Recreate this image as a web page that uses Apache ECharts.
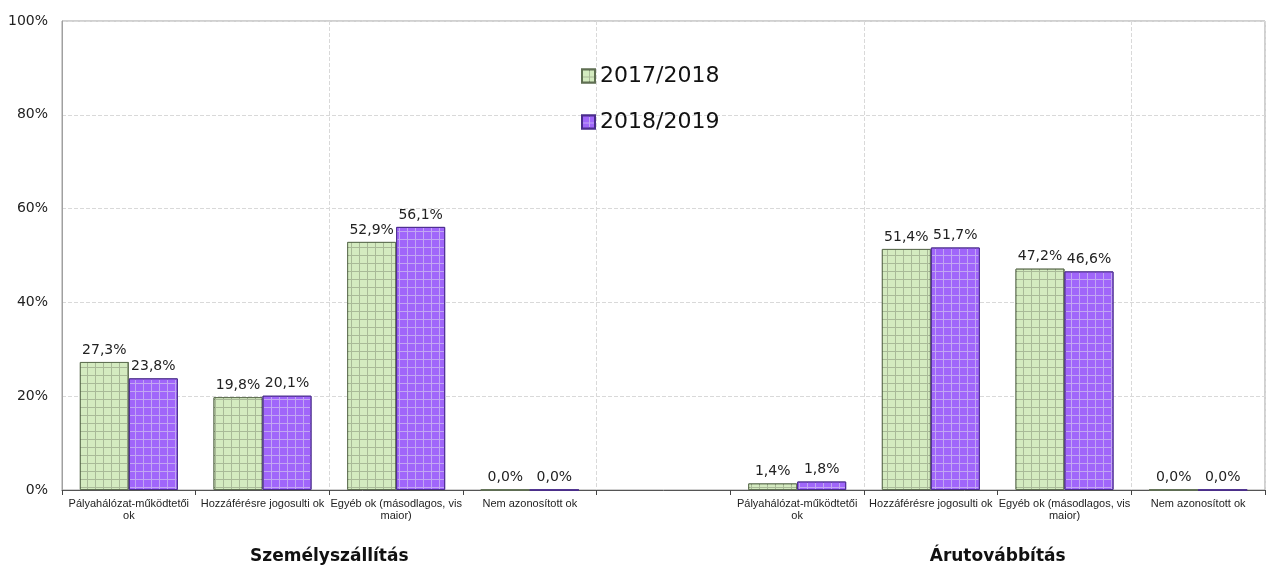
<!DOCTYPE html>
<html>
<head>
<meta charset="utf-8">
<script src="https://cdn.jsdelivr.net/npm/echarts@6/dist/echarts.min.js"></script>
<style>
  html, body { margin: 0; padding: 0; background: #fff; }
  #chart { width: 1266px; height: 568px; }
</style>
</head>
<body>
<div id="chart"></div>
<script>
  // categories: 4 passenger reasons, an empty slot, 4 freight reasons
  const categories = [
    'Pályahálózat-működtetői\nok',
    'Hozzáférésre jogosulti ok',
    'Egyéb ok (másodlagos, vis\nmaior)',
    'Nem azonosított ok',
    '',
    'Pályahálózat-működtetői\nok',
    'Hozzáférésre jogosulti ok',
    'Egyéb ok (másodlagos, vis\nmaior)',
    'Nem azonosított ok',
  ];
  const seriesNames = ['2017/2018', '2018/2019'];
  const values2017 = [27.3, 19.8, 52.9, 0.0, '-', 1.4, 51.4, 47.2, 0.0];
  const values2018 = [23.8, 20.1, 56.1, 0.0, '-', 1.8, 51.7, 46.6, 0.0];
  const groupTitles = ['Személyszállítás', 'Árutovábbítás'];
  const yTicks = [0, 20, 40, 60, 80, 100];

  const chart = echarts.init(document.getElementById('chart'));

  function pct(v) {
    return v.toFixed(1).replace('.', ',') + '%';
  }

  function barStyle(fill, lines, border) {
    return {
      color: lines,
      borderColor: border,
      borderWidth: 1,
      decal: {
        symbol: 'rect',
        symbolSize: 1,
        color: fill,
        dashArrayX: [7, 1],
        dashArrayY: [7, 1],
      },
    };
  }

  const plotLeft = 62, plotRight = 1265, plotTop = 21, plotBottom = 490;
  const catW = (plotRight - plotLeft) / categories.length;

  const labelStyle = {
    show: true,
    position: 'top',
    distance: 5,
    formatter: (p) => pct(p.value),
    fontFamily: 'DejaVu Sans',
    fontSize: 14,
    color: '#222',
  };

  function groupTitle(text, x) {
    return {
      type: 'text',
      x: x,
      y: 557,
      style: {
        text: text,
        fontFamily: 'DejaVu Sans',
        fontWeight: 'bold',
        fontSize: 17,
        fill: '#111',
        align: 'center',
        verticalAlign: 'middle',
      },
    };
  }

  chart.setOption({
    animation: false,
    grid: {
      left: plotLeft,
      right: 1266 - plotRight,
      top: plotTop,
      bottom: 568 - plotBottom,
      show: true,
      borderColor: '#a0a0a0',
      borderWidth: 1,
    },
    legend: {
      orient: 'vertical',
      left: 576,
      top: 60,
      itemWidth: 13,
      itemHeight: 13,
      itemGap: 24,
      icon: 'rect',
      textStyle: { fontFamily: 'DejaVu Sans', fontSize: 22, color: '#111' },
      data: seriesNames,
    },
    xAxis: {
      type: 'category',
      data: categories,
      axisLine: { lineStyle: { color: '#555', width: 1 } },
      axisTick: { show: true, interval: 0, length: 5, lineStyle: { color: '#444' } },
      axisLabel: {
        interval: 0,
        fontFamily: 'Liberation Sans',
        fontSize: 11,
        color: '#222',
        lineHeight: 12,
        margin: 8,
      },
      splitLine: {
        show: true,
        interval: 1,
        lineStyle: { type: 'dashed', color: '#d9d9d9' },
      },
    },
    yAxis: {
      type: 'value',
      min: 0,
      max: yTicks[yTicks.length - 1],
      interval: yTicks[1] - yTicks[0],
      axisLine: { show: true, lineStyle: { color: '#a0a0a0' } },
      axisTick: { show: false },
      axisLabel: {
        formatter: '{value}%',
        fontFamily: 'DejaVu Sans',
        fontSize: 14,
        color: '#222',
        margin: 14,
      },
      splitLine: { lineStyle: { type: 'dashed', color: '#d9d9d9' } },
    },
    series: [
      {
        name: seriesNames[0],
        type: 'bar',
        data: values2017,
        barWidth: 49,
        barGap: '0%',
        itemStyle: barStyle('#d4ebc0', '#a9ba98', '#5f6f52'),
        label: labelStyle,
      },
      {
        name: seriesNames[1],
        type: 'bar',
        data: values2018,
        barWidth: 49,
        itemStyle: barStyle('#a066fa', '#c2a6f3', '#4a2c8c'),
        label: labelStyle,
      },
    ],
    graphic: [
      groupTitle(groupTitles[0], plotLeft + catW * 2),
      groupTitle(groupTitles[1], plotLeft + catW * 7),
    ],
  });

  window.addEventListener('resize', () => chart.resize());
</script>
</body>
</html>
